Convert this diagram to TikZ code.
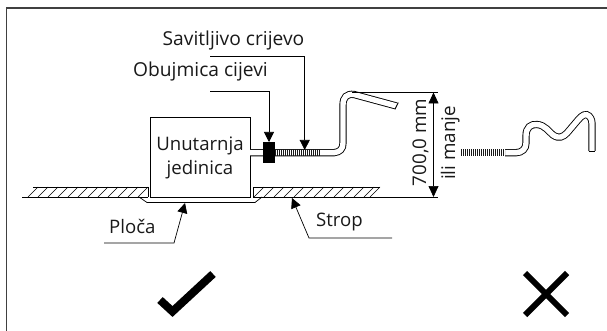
\documentclass[tikz,border=0pt]{standalone}
\usepackage{fontspec}
\setmainfont{Open Sans}
\usetikzlibrary{arrows.meta}
\tikzset{
 lbl/.style={inner sep=0pt,anchor=base west,font=\fontsize{19.2}{22}\selectfont,text=black!90},
 shortlbl/.style={inner sep=0pt,anchor=base west,font=\fontsize{18.6}{22}\selectfont,text=black!90},
 vlbl/.style={inner sep=0pt,anchor=base,rotate=90,font=\fontsize{18.8}{22}\selectfont,text=black!90},
 thinline/.style={line width=0.7pt},
 leader/.style={line width=0.7pt,-{Triangle[length=10pt,width=10pt]}},
 dimarrow/.style={line width=0.7pt,{Triangle[length=11pt,width=10pt]}-{Triangle[length=11pt,width=10pt]}},
 pipe/.style={double=white,double distance=5.4pt,line width=0.9pt,line cap=butt},
 corr/.style={line width=6.8pt,dash pattern=on 1.3pt off 0.7pt,black!90},
 bigmark/.style={line width=8pt,black},
 hatchline/.style={line width=0.6pt},
 box/.style={draw,line width=0.9pt,fill=white,inner sep=0pt}
}
\begin{document}
\begin{tikzpicture}[x=1pt,y=-1pt]
\useasboundingbox (0,0) rectangle (607,331);
\draw[line width=1.3pt,black!75] (6.7,345) -- (6.7,8) -- (620,8);
% ceiling hatching
\foreach \x in {28,38,...,138}{\draw[hatchline] (\x,197) -- (\x+10,187);}
\foreach \x in {254,264,...,364}{\draw[hatchline] (\x,197) -- (\x+10,187);}
\draw[thinline] (33,187) -- (148,187) -- (148,197);
\draw[thinline] (253,197) -- (253,187) -- (380,187);
\draw[thinline] (22,197) -- (148,197);
\draw[thinline] (253,197) -- (438,197);
\draw[hatchline] (370,197) -- (380,187);
% panel
\draw[thinline] (139,197) -- (147,202.5) -- (255,202.5) -- (262,197);
% unit
\node[box,minimum width=100pt,minimum height=80pt] (unit) at (200,157.5) {};
\node[inner sep=0pt,align=center,font=\fontsize{18.6}{24}\selectfont,text=black!90] (unittext) at (200,158) {Unutarnja\\jedinica};
% left pipe
\draw[pipe] (250,152.7) -- (334,152.7) .. controls (340,152) and (343,149) .. (343,143) -- (343,105) .. controls (343,97) and (347,93.5) .. (354,94.5) -- (396.5,106);
\draw[line width=0.9pt] (398.2,102.6) -- (395,109);
\draw[corr] (275,152.7) -- (320,152.7);
\node[fill=black,inner sep=0pt,minimum width=12pt,minimum height=21pt] (clamp) at (269,152.5) {};
% right pipe
\draw[pipe] (505,152.7) -- (516,152.7) .. controls (522,152.5) and (526,149) .. (526,143) -- (526,136) .. controls (526,127) and (531,124) .. (537,124.5) .. controls (545,125) and (549,132) .. (553,135) .. controls (559,139) and (563,137) .. (567,133) -- (578,120) .. controls (582,115) and (586,113) .. (589,116) .. controls (592,119) and (592,122) .. (592,126) -- (592,151);
\draw[line width=0.9pt] (588.7,151) -- (595.3,151);
\draw[corr] (461,152.7) -- (505,152.7);
% dimension
\coordinate (dimtop) at (433.5,92.5);
\coordinate (dimbot) at (433.5,197);
\draw[thinline] (352,92.5) -- (438,92.5);
\draw[dimarrow] (dimtop) -- (dimbot);
\node[vlbl] (dimA) at (426,142.5) {700,0 mm};
\node[vlbl] (dimB) at (455,143) {ili manje};
% labels
\node[lbl] (sav) at (162.5,46) {Savitljivo crijevo};
\node[lbl] (obu) at (133,77) {Obujmica cijevi};
\node[shortlbl] (plo) at (109,233) {Ploča};
\node[shortlbl] (str) at (316,226.5) {Strop};
\coordinate (l1) at (210,56.7);\coordinate (l1b) at (304.7,56.7);\coordinate (l1c) at (304.7,150);
\draw[leader] (l1) -- (l1b) -- (l1c);
\coordinate (l2) at (210,91);\coordinate (l2b) at (269,91);\coordinate (l2c) at (269,142);
\draw[leader] (l2) -- (l2b) -- (l2c);
\coordinate (l3) at (104,243);\coordinate (l3b) at (174,243);\coordinate (l3c) at (185,203);
\draw[leader] (l3) -- (l3b) -- (l3c);
\coordinate (l4) at (392,238);\coordinate (l4b) at (309,238);\coordinate (l4c) at (292,198);
\draw[leader] (l4) -- (l4b) -- (l4c);
% marks
\draw[bigmark] (160,300) -- (172.5,311.5) -- (213,274);
\draw[bigmark,line width=6pt] (525,273) -- (567,315);
\draw[bigmark,line width=6pt] (567,273) -- (525,315);
\end{tikzpicture}
\end{document}
